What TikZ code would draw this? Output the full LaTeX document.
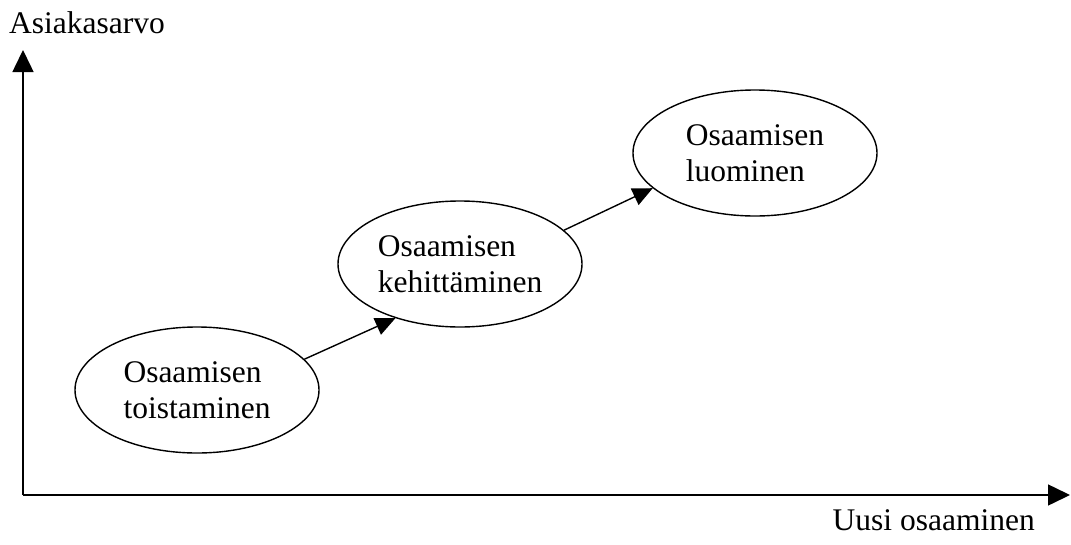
\documentclass[tikz,border=0pt]{standalone}
\usepackage{fontspec}
\setmainfont{Liberation Serif}
\usetikzlibrary{arrows.meta,shapes.geometric}
\begin{document}
\begin{tikzpicture}[x=1pt,y=-1pt,
  lbl/.style={font=\fontsize{31.5pt}{36pt}\selectfont, inner sep=0pt},
  bubble/.style={ellipse, draw, line width=1.4pt, minimum width=244pt, minimum height=126pt, inner sep=0pt, align=left, font=\fontsize{31.5pt}{36pt}\selectfont},
  axis/.style={line width=1.5pt, -{Triangle[length=22pt,width=21pt]}},
  link/.style={line width=1.4pt, -{Triangle[length=20pt,width=18pt]}}]
\useasboundingbox (0,0) rectangle (1071,544);
\coordinate (o) at (23,495);
\coordinate (ytip) at (23,50);
\coordinate (xtip) at (1070,495);
\draw[axis] (o) -- (ytip);
\draw[axis] (o) -- (xtip);
\node[lbl, anchor=base west] (ylab) at (9,33) {Asiakasarvo};
\node[lbl, anchor=base east] (xlab) at (1035,530) {Uusi osaaminen};
\node[bubble] (e1) at (197,390) {Osaamisen\\toistaminen};
\node[bubble] (e2) at (460,264) {Osaamisen\\kehittäminen};
\node[bubble] (e3) at (755,153) {Osaamisen\\luominen};
\draw[link] (e1.16) -- (e2.220);
\draw[link] (e2.18) -- (e3.199);
\end{tikzpicture}
\end{document}
